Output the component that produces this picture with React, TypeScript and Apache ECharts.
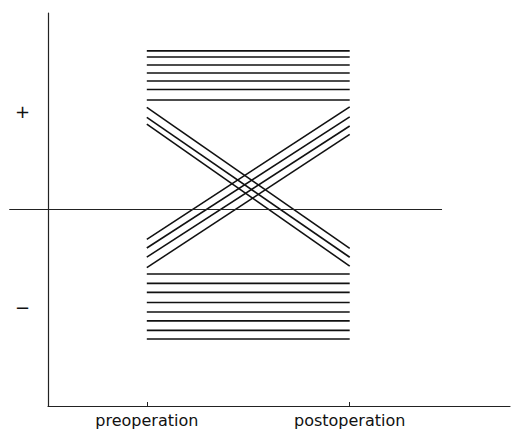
import React, { useEffect, useRef } from "react";
import * as echarts from "echarts";

// x positions of the two measurement occasions
const categories = ["preoperation", "postoperation"];
const categoryX = [1, 2];

// y tick labels
const yTickValues = [0.5, -0.5];
const yTickLabels = ["+", "\u2212"];

// patients staying positive (pre, post)
const stayPositive = [0.807, 0.776, 0.735, 0.695, 0.654, 0.611, 0.557];
// patients staying negative
const stayNegative = [-0.328, -0.376, -0.422, -0.473, -0.522, -0.567, -0.615, -0.659];
// positive -> negative
const posToNegPre = [0.52, 0.469, 0.434];
const posToNegPost = [-0.198, -0.243, -0.288];
// negative -> positive
const negToPosPre = [-0.152, -0.196, -0.242, -0.296];
const negToPosPost = [0.522, 0.471, 0.425, 0.382];

// reference (zero) line extent along x (in the main x scale)
const xMin = 0.513;
const xMax = 2.79;
const zeroLineX = [0.322, 2.455];

export default function App() {
  const ref = useRef<HTMLDivElement>(null);
  useEffect(() => {
    if (!ref.current) return;
    const chart = echarts.init(ref.current, undefined, { renderer: "svg" });
    const lineStyle = { color: "#111", width: 1.6 };
    const mk = (a: number, b: number) => ({
      type: "line",
      data: [
        [categoryX[0], a],
        [categoryX[1], b],
      ],
      symbol: "none",
      lineStyle,
      silent: true,
      clip: false,
    });
    const series: any[] = [];
    stayPositive.forEach((v) => series.push(mk(v, v)));
    stayNegative.forEach((v) => series.push(mk(v, v)));
    posToNegPre.forEach((v, i) => series.push(mk(v, posToNegPost[i])));
    negToPosPre.forEach((v, i) => series.push(mk(v, negToPosPost[i])));
    series.push({
      type: "line",
      xAxisIndex: 1,
      yAxisIndex: 1,
      data: [
        [zeroLineX[0], 0],
        [zeroLineX[1], 0],
      ],
      symbol: "none",
      lineStyle: { color: "#222", width: 1.1 },
      silent: true,
      clip: false,
    });
    const left = 48;
    const right = 1;
    const plotW = 511 - left - right;
    const pxPerUnit = plotW / (xMax - xMin);
    const left2 = left - (xMin - zeroLineX[0]) * pxPerUnit;
    const w2 = (zeroLineX[1] - zeroLineX[0]) * pxPerUnit;
    chart.setOption({
      animation: false,
      backgroundColor: "#fff",
      grid: [
        { left, right, top: 13, bottom: 30, containLabel: false },
        { left: left2, width: w2, top: 13, bottom: 30, containLabel: false },
      ],
      xAxis: [
        {
          type: "value",
          min: xMin,
          max: xMax,
          axisLine: { show: true, onZero: false, lineStyle: { color: "#222", width: 1.2 } },
          axisTick: {
            show: true,
            inside: true,
            length: 4,
            customValues: categoryX,
            lineStyle: { color: "#222", width: 1 },
          },
          axisLabel: {
            show: true,
            customValues: categoryX,
            margin: 6,
            color: "#111",
            fontFamily: "DejaVu Sans",
            fontSize: 16,
            formatter: (v: number) => {
              const i = categoryX.indexOf(v);
              return i >= 0 ? categories[i] : "";
            },
          },
          splitLine: { show: false },
        },
        {
          type: "value",
          gridIndex: 1,
          min: zeroLineX[0],
          max: zeroLineX[1],
          show: false,
        },
      ],
      yAxis: [
        {
          type: "value",
          min: -1,
          max: 1,
          axisLine: { show: true, onZero: false, lineStyle: { color: "#222", width: 1.2 } },
          axisTick: { show: false },
          axisLabel: {
            show: true,
            customValues: yTickValues,
            margin: 18,
            color: "#111",
            fontFamily: "DejaVu Sans",
            fontSize: 18,
            formatter: (v: number) => {
              const i = yTickValues.indexOf(v);
              return i >= 0 ? yTickLabels[i] : "";
            },
          },
          splitLine: { show: false },
        },
        {
          type: "value",
          gridIndex: 1,
          min: -1,
          max: 1,
          show: false,
        },
      ],
      series,
    });
    return () => chart.dispose();
  }, []);
  return (
    <div
      ref={ref}
      style={{ position: "fixed", left: 0, top: 0, width: 511, height: 436, background: "#fff" }}
    />
  );
}
